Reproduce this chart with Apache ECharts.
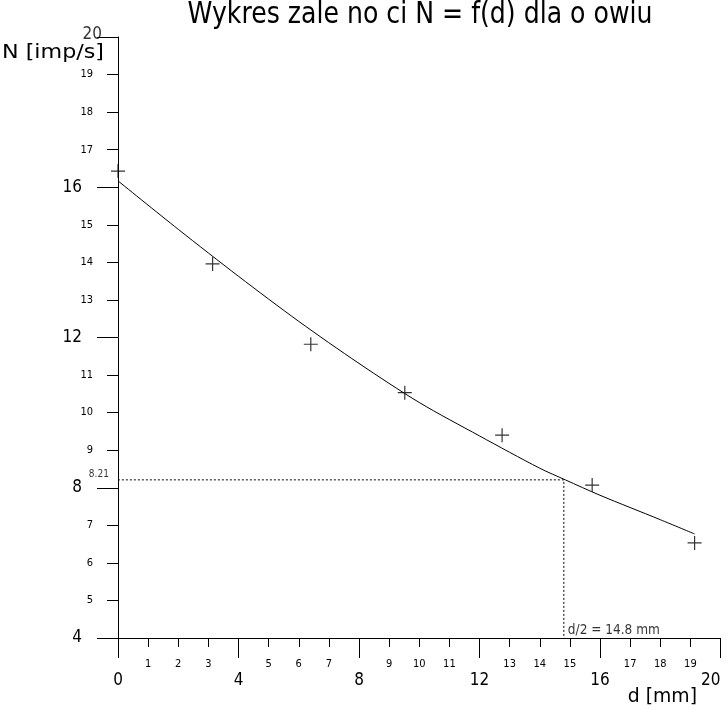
<!DOCTYPE html>
<html><head><meta charset="utf-8">
<script src="https://cdn.jsdelivr.net/npm/echarts@6/dist/echarts.min.js"></script>
<style>html,body{margin:0;padding:0;background:#fff;overflow:hidden}#c{position:absolute;left:0;top:0;width:726px;height:709px}</style>
</head><body><div id="c"></div>
<script>
const titleText = 'Wykres zale no ci N = f(d) dla o owiu';
const xName = 'd [mm]';
const yName = 'N [imp/s]';
// measured points (crosses)
const measD = [0, 3.14, 6.40, 9.52, 12.75, 15.74, 19.14];
const measN = [16.43, 13.96, 11.82, 10.53, 9.40, 8.07, 6.53];
// fitted curve
const fitD = [0, 2, 4, 6, 8, 10, 12, 14, 14.85, 16, 18, 19.14];
const fitN = [16.17, 14.88, 13.63, 12.43, 11.31, 10.27, 9.38, 8.52, 8.21, 7.80, 7.15, 6.77];
// half-value reading
const halfD = 14.8;
const halfN = 8.21;
const halfLabelN = '8.21';
const halfLabelD = 'd/2 = 14.8 mm';
const yTopValue = 20;

const FONT = "'Liberation Sans Narrow','DejaVu Sans Condensed',sans-serif";
const chart = echarts.init(document.getElementById('c'));
const pairs = (a, b) => a.map((v, i) => [v, b[i]]);
const isMajor = v => Math.abs(v % 4) < 1e-9;

chart.setOption({
  animation: false,
  backgroundColor: '#fff',
  grid: { left: 118, top: 37, right: 5.5, bottom: 71, containLabel: false, outerBoundsMode: 'none' },
  xAxis: [
    { type: 'value', min: 0, max: 20, interval: 1, position: 'bottom',
      axisLine: { show: true, lineStyle: { color: '#000', width: 1 } },
      axisTick: { show: true, inside: false, length: 9, lineStyle: { color: '#000' } },
      splitLine: { show: false },
      axisLabel: { margin: 21, fontSize: 11, color: '#000', fontFamily: FONT,
        formatter: v => isMajor(v) ? '' : String(v) } },
    { type: 'value', min: 0, max: 20, interval: 4, position: 'bottom', gridIndex: 0,
      axisLine: { show: false },
      axisTick: { show: true, inside: false, length: 20, lineStyle: { color: '#000' } },
      splitLine: { show: false },
      axisLabel: { margin: 34, fontSize: 17, color: '#000', fontFamily: FONT, alignMaxLabel: 'right',
        formatter: v => String(v) } }
  ],
  yAxis: [
    { type: 'value', min: 4, max: 20, interval: 1, position: 'left',
      axisLine: { show: true, lineStyle: { color: '#000', width: 1 } },
      axisTick: { show: true, inside: false, length: 11, lineStyle: { color: '#000' } },
      splitLine: { show: false },
      axisLabel: { margin: 25, fontSize: 11, color: '#000', fontFamily: FONT,
        formatter: v => isMajor(v) ? '' : String(v) } },
    { type: 'value', min: 4, max: 20, interval: 4, position: 'left', gridIndex: 0,
      axisLine: { show: false },
      axisTick: { show: true, inside: false, length: 21, lineStyle: { color: '#000' } },
      splitLine: { show: false },
      axisLabel: { margin: 36, fontSize: 17, color: '#000', fontFamily: FONT,
        formatter: v => v === yTopValue ? '' : String(v) } }
  ],
  series: [
    { type: 'line', data: pairs(fitD, fitN), showSymbol: false, smooth: 0.3,
      lineStyle: { color: '#000', width: 1 }, silent: true, z: 3 },
    { type: 'scatter', data: pairs(measD, measN),
      symbol: 'path://M7,0L7,14M0,7L14,7', symbolSize: 14,
      itemStyle: { color: 'none', borderColor: '#000', borderWidth: 1.2 }, z: 4 },
    { type: 'line', data: [[-0.27, halfN], [halfD, halfN], [halfD, 4]], clip: false,
      showSymbol: false, lineStyle: { color: '#000', width: 1, type: [2, 2] }, z: 2 },
    { type: 'scatter', data: [[-0.27, halfN]], symbolSize: 0, clip: false,
      label: { show: true, position: 'left', distance: 1, offset: [0, -5], formatter: halfLabelN,
        fontSize: 10, color: '#000', fontFamily: FONT } },
    { type: 'scatter', data: [[halfD, 4]], symbolSize: 0, clip: false,
      label: { show: true, position: [4, -15], formatter: halfLabelD, align: 'left',
        fontSize: 13.5, color: '#000', fontFamily: FONT } },
    { type: 'scatter', data: [[0, yTopValue]], symbolSize: 0, clip: false,
      label: { show: true, position: 'left', distance: 16, offset: [0, -2], formatter: String(yTopValue),
        fontSize: 17, color: '#000', fontFamily: FONT } }
  ],
  graphic: [
    { type: 'text', x: 420, y: 15, scaleY: 1.1, style: { text: titleText, fontSize: 28, fontFamily: FONT,
        fill: '#000', align: 'center', verticalAlign: 'middle' } },
    { type: 'text', x: 2, y: 53, scaleX: 1.3, style: { text: yName, fontSize: 19, fontFamily: FONT,
        fill: '#000', align: 'left', verticalAlign: 'middle' } },
    { type: 'text', x: 697, y: 697, scaleX: 1.1, style: { text: xName, fontSize: 19, fontFamily: FONT,
        fill: '#000', align: 'right', verticalAlign: 'middle' } }
  ]
});
</script></body></html>
